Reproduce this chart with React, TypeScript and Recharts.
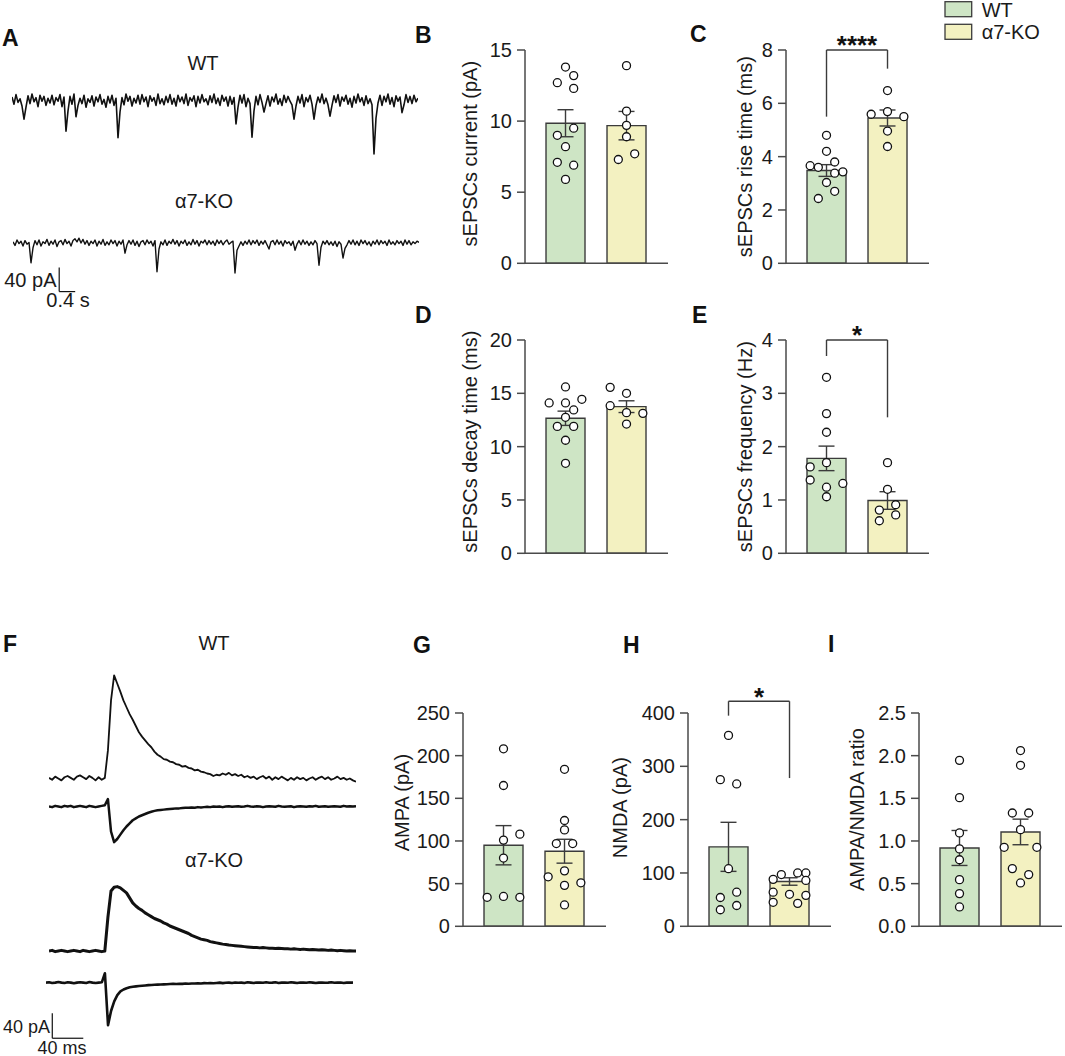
import React from 'react';
import {
  ComposedChart,
  Bar,
  Cell,
  ErrorBar,
  Scatter,
  XAxis,
  YAxis,
  ReferenceLine,
  ReferenceDot,
  LineChart,
  Line,
} from 'recharts';

const FONT = '"Liberation Sans", Arial, Helvetica, sans-serif';
const WT_FILL = '#cee5c5';
const KO_FILL = '#f3f1c1';
const EDGE = '#3b3b3b';
const AXIS = '#4a4a4a';
const INK = '#111111';
const TEXT = '#1a1a1a';

// ---------- B: sEPSC amplitude (pA)
const ampMean = [9.85, 9.68];
const ampSem = [0.95, 1.0];
const ampWt = [13.8, 13.2, 12.7, 12.3, 9.5, 9.0, 8.2, 7.1, 6.9, 5.9];
const ampWtLane = [0, 1, -1, 1, 1, -1, 0, -1, 1, 0];
const ampKo = [13.9, 10.7, 9.7, 8.9, 7.7, 7.3];
const ampKoLane = [0, 0, 0, 0, 1, -1];

// ---------- C: rise time (ms)
const riseMean = [3.48, 5.45];
const riseSem = [0.22, 0.3];
const riseWt = [4.8, 4.2, 3.8, 3.66, 3.6, 3.43, 3.38, 3.03, 2.7, 2.43];
const riseWtLane = [0, 0, 1, -2, -1, 2, 1, 0, 1, -1];
const riseKo = [6.48, 5.69, 5.59, 5.5, 4.96, 4.38];
const riseKoLane = [0, 0, -2, 2, 0, 0];

// ---------- D: decay time (ms)
const decayMean = [12.66, 13.75];
const decaySem = [0.67, 0.55];
const decayWt = [15.6, 14.44, 14.1, 14.1, 13.44, 12.75, 11.9, 11.9, 10.6, 8.44];
const decayWtLane = [0, 2, -2, 0, 1, 0, -1, 1, 0, 0];
const decayKo = [15.56, 15.0, 13.84, 13.19, 13.12, 12.12];
const decayKoLane = [-2, 0, -2, 0, 2, 0];

// ---------- E: frequency (Hz)
const freqMean = [1.78, 0.99];
const freqSem = [0.23, 0.165];
const freqWt = [3.3, 2.62, 2.27, 1.7, 1.62, 1.375, 1.31, 1.24, 1.06];
const freqWtLane = [0, 0, 0, 0, -2, -2, 2, 0, 0];
const freqKo = [1.7, 1.2, 0.91, 0.81, 0.72, 0.61];
const freqKoLane = [0, 0, 1, -1, 1, -1];

// ---------- G: AMPA (pA)
const ampaMean = [95, 88];
const ampaSem = [23, 14];
const ampaWt = [208, 165, 108, 101, 80, 35, 34, 34];
const ampaWtLane = [0, 0, 2, 0, 0, 0, -2, 2];
const ampaKo = [184, 124, 113, 97, 97, 65, 58, 51, 48, 25];
const ampaKoLane = [0, 0, 0, -1, 1, 0, -2, 2, 0, 0];

// ---------- H: NMDA (pA)
const nmdaMean = [149, 84];
const nmdaSem = [46, 7];
const nmdaWt = [358, 275, 267, 108, 64, 54, 39, 31];
const nmdaWtLane = [0, -1, 1, 0, 1, -1, 1, -1];
const nmdaKo = [100, 100, 97, 88, 86, 64, 60, 58, 45, 43];
const nmdaKoLane = [1, 2, -1, -2, 2, -2, 0, 2, -2, 1];

// ---------- I: AMPA/NMDA ratio
const ratioMean = [0.918, 1.106];
const ratioSem = [0.205, 0.15];
const ratioWt = [1.945, 1.508, 1.094, 0.907, 0.78, 0.547, 0.383, 0.227];
const ratioWtLane = [0, 0, 0, 0, 0, 0, 0, 0];
const ratioKo = [2.06, 1.887, 1.328, 1.328, 1.133, 0.926, 0.926, 0.676, 0.606, 0.508];
const ratioKoLane = [0, 0, -1, 1, 0, -2, 2, -1, 1, 0];

// significance brackets: [top, left leg end, right leg end]
const riseBracket = [8, 5.5, 7.3];
const freqBracket = [4, 3.7, 2.55];
const nmdaBracket = [422, 395, 278];

// ---------- A: spontaneous traces, pA, one sample every 50 ms
const SPONT_DT = 0.05;
const spontWt = [
  5, -7, 9, -4, 2, -10, -32, -12, 7, -6, 10, -3, 4, -11, 8, -2, 6, -9, 3, -5,
  8, -8, 4, -2, 9, -11, 5, -52, -18, 6, -7, 10, -28, -9, 3, -6, 8, -12, 2, -4,
  7, -10, 5, -3, 9, -7, 1, -12, 6, -5, 8, -9, 3, -63, -20, 4, -8, 10, -2, 6,
  -10, 3, -5, 8, -7, 9, -3, 5, -11, 7, -2, 4, -9, 10, -6, 2, -8, 6, -4, 9,
  -7, 3, -10, 8, -3, 5, -6, 10, -9, 4, -2, 7, -11, 6, -5, 9, -3, 2, -8, 7,
  -4, 10, -6, 3, -9, 8, -2, 5, -10, 6, -7, 4, -40, -12, 8, -5, 9, -11, 3, -6,
  -62, -18, 6, -8, 9, -4, -20, -6, 7, -10, 5, -3, 10, -7, 2, -9, 8, -4, 6, -2,
  -8, -32, -10, 6, -5, 9, -11, 4, -3, 8, -7, -32, -9, 5, -4, 10, -6, 3, -8, -27,
  -9, 7, -4, 9, -10, 5, -2, 8, -7, 3, -12, 6, -5, 10, -3, 4, -9, 7, -6, 2,
  -8, -90, -30, -5, 8, -9, 6, -3, 10, -7, 4, -11, 7, -2, 5, -21, -8, 9, -4, 6,
  -6, 8, -3, 3,
];
const spontKo = [
  2, -4, 5, -1, 3, -5, 4, -2, 1, -33, -8, 4, -3, 5, -5, 2, -1, 6, -4, 3,
  -2, 5, -6, 2, 4, -3, 6, -1, 3, -5, 4, 7, 2, 8, 0, 6, -2, 4, -4, 3,
  -1, 5, -5, 3, -2, 6, -4, 2, -3, 5, -1, 4, -5, 3, -2, 5, -17, -3, 4, -2,
  5, -4, 3, -6, 2, 4, -3, 5, -1, 3, -5, 4, -48, -10, 2, -3, 5, -4, 3, -1,
  6, -2, 4, -5, 3, -1, 5, -4, 2, -3, 6, -2, 4, -5, 3, 0, 5, -3, 4, -2,
  3, -4, 5, -1, 4, -3, 2, 5, -2, 1, 3, -50, -12, -5, 2, -4, 3, -2, 5, -3,
  4, -1, 5, -4, 3, -2, 4, -3, -10, 2, 4, -3, 5, -2, 3, -5, 4, -1, 2, -4,
  3, -12, -2, 4, -3, 5, -2, 3, -4, 2, -3, 4, -1, -37, -7, 3, -2, 4, -3, 2,
  -4, 3, -6, 2, -2, -25, -9, -3, 4, -2, 5, -3, 3, -4, 5, -1, 4, -3, 2, -5,
  3, -2, 5, -3, 4, -1, 3, -4, 5, -2, 2, -3, 4, -1, 3, -4, 5, -2, 4, -3,
  2, -1, 3, 1,
];
// scale bar: 40 pA / 0.4 s
const spontScale = { t: 1.155, v: -81, dv: 40, dt: 0.4 };

// ---------- F: evoked currents, pA, one sample every 4 ms
const EVOKED_DT = 4;
const evokedWtUp = [
  1, -2, 3, 0, -3, 2, 4, 1, -2, 3, 5, 2, -1, 4, 1, -3, 2, -2, 1,
  45, 125, 165, 152, 139, 125, 114, 103, 94, 84, 74, 67, 61, 55, 50, 43, 38, 35, 31, 30,
  27, 26, 23, 22, 19, 20, 17, 16, 13, 14, 11, 10, 8, 7, 4,
  6, 5, 8, 6, 9, 5, 7, 4, 6, 2, 4, 1, 3, -1, 2, 4, 0, 3, -2, 2,
  -1, 3, 0, -3, 1, -2, 2, -1, 1, -3, 0, 2, -2, 1, 3, -1, 2, -2, 0, 3,
  -1, 1, -2, 0, -3, -5,
];
const evokedWtDown = [
  0, -1, 1, 0, -1, 1, 0, 1, -1, 0, 1, 0, -1, 1, 0, -1, 0, 1, 2,
  12, -40, -57, -52, -45, -38, -32, -27, -22, -19, -16, -14, -12, -10, -8.5, -7, -6, -5.5, -5, -4.5,
  -4, -3.5, -3, -3, -2.5, -2, -2, -1.5, -2, -1, -1.5, -1, -0.5, -1,
  0, -0.5, 0, -1, 0, 0.5, -0.5, 0, 0.5, -0.5, 0, 1, 0, -0.5, 0.5, 0, -1, 0, 0.5, 0,
  -0.5, 1, 0, -0.5, 0, 0.5, -1, 0, 0.5, 0, -0.5, 0.5, 0, 1, -0.5, 0, 0.5, -0.5, 0, 0.5,
  0, -0.5, 1, 0, 0.5, 0, 0.5,
];
const evokedKoUp = [
  0, 1, -1, 0, 1, 0, -1, 0, 1, 0, -1, 1, 0, -1, 0, 1, 0, -1, 0,
  54, 96, 102, 103, 101, 97, 93, 85, 77, 72, 68, 65, 61, 58, 55, 52, 50, 48, 45, 43,
  40, 38, 36, 34, 32, 30, 28, 25, 23, 21, 19, 18, 17, 15, 14, 13, 12, 11, 10.5, 9.5,
  9, 8.5, 8, 7.5, 7, 6.5, 6,
  5.5, 5.5, 5, 5.5, 5, 4.5, 4.5, 4, 4.5, 4, 3.5, 3.5, 3, 3.5, 3, 2.5, 3, 2.5, 2, 2.5,
  2, 1.5, 2, 1.5, 1, 1.5, 1, 0.5, 1, 0.5, 0, 0.5, 0, 0,
];
const evokedKoDown = [
  0, 0.5, -0.5, 0, 1, 0, -0.5, 0.5, 0, -1, 0, 0.5, 0, -0.5, 1, 0, -0.5, 0, 0.5,
  15, -68, -45, -30, -20, -14, -11, -9, -7.5, -6.5, -6, -5.5, -5, -4.5, -4, -3.8, -3.5, -3.2, -3, -2.8,
  -2.5, -2.3,
  -2, -2.2, -1.8, -2, -1.5, -1.8, -1.3, -1.5, -1, -1.3, -0.8, -1, -0.5, -1, -0.5, 0, -0.8, -0.3, 0, -0.5,
  0.3, -0.3, 0, -0.5, 0.5, 0, -0.5, 0.3, 0, -0.3, 0.5, -0.3, 0, 0.5, -0.5, 0, 0.3, -0.3, 0.5, 0,
  -0.5, 0.3, 0, -0.3, 0.5, 0, -0.5, 0, 0.3, -0.3, 0, 0.5, -0.3, 0, 0.3, -0.5, 0, 0.3, 0,
];
// scale bar: 40 pA / 40 ms
const evokedScale = { t: 8.1, v: -89, dv: 40, dt: 40 };

// ---------- layout
const Y_W = 85;
const PLOT_W = 143;
const PLOT_H = 213.3;
const M_TOP = 40;
const M_RIGHT = 4;
const X_H = 2;
const M_BOT = 16;
const X_DOMAIN: [number, number] = [0.336, 2.68];
const LANE = 0.134;

const AxisTitle = (props: any) => {
  const { viewBox, caption, dist, shiftY } = props;
  const cx = viewBox.x + viewBox.width - dist;
  const cy = viewBox.y + viewBox.height / 2 + shiftY;
  return (
    <text
      x={cx}
      y={cy}
      transform={`rotate(-90 ${cx} ${cy})`}
      textAnchor="middle"
      dominantBaseline="central"
      fontSize={20}
      fill={TEXT}
    >
      {caption}
    </text>
  );
};

const Mark = (props: any) => {
  const { viewBox, mark } = props;
  const cx = viewBox.x + viewBox.width / 2;
  const cy = viewBox.y + viewBox.height / 2;
  return (
    <text x={cx} y={cy + 4.5} textAnchor="middle" fontSize={26} fontWeight="bold" fill={INK}>
      {mark}
    </text>
  );
};

const Dot = (props: any) => (
  <circle cx={props.cx} cy={props.cy} r={4} fill="#ffffff" stroke={INK} strokeWidth={1.3} />
);

type PanelProps = {
  left: number;
  top: number;
  max: number;
  ticks: number[];
  title: string;
  dist: number;
  shiftY: number;
  mean: number[];
  sem: number[];
  wt: number[];
  wtLane: number[];
  ko: number[];
  koLane: number[];
  bracket?: number[];
  mark?: string;
  decimals?: number;
};

function BarPanel(p: PanelProps) {
  const bars = p.mean.map((m, i) => ({ x: i + 1, mean: m, sem: p.sem[i] }));
  const dots = [
    ...p.wt.map((v, i) => ({ x: 1 + p.wtLane[i] * LANE, y: v })),
    ...p.ko.map((v, i) => ({ x: 2 + p.koLane[i] * LANE, y: v })),
  ];
  const line = { stroke: AXIS, strokeWidth: 1.5 };
  return (
    <div style={{ position: 'absolute', left: p.left - Y_W, top: p.top - M_TOP }}>
      <ComposedChart
        width={Y_W + PLOT_W + M_RIGHT}
        height={M_TOP + PLOT_H + X_H + M_BOT}
        data={bars}
        margin={{ top: M_TOP, right: M_RIGHT, bottom: M_BOT, left: 0 }}
      >
        <XAxis
          type="number"
          dataKey="x"
          domain={X_DOMAIN}
          ticks={[1, 2]}
          allowDataOverflow
          tick={false}
          tickLine={false}
          axisLine={line}
          height={X_H}
        />
        <XAxis xAxisId="dots" type="number" dataKey="x" domain={X_DOMAIN} allowDataOverflow hide />
        <YAxis
          type="number"
          domain={[0, p.max]}
          ticks={p.ticks}
          interval={0}
          width={Y_W}
          tickSize={8}
          tickMargin={5}
          axisLine={line}
          tickLine={line}
          tick={{ fontSize: 20, fill: TEXT }}
          tickFormatter={(v: number) => (p.decimals ? v.toFixed(p.decimals) : String(v))}
          label={<AxisTitle caption={p.title} dist={p.dist} shiftY={p.shiftY} />}
        />
        <Bar dataKey="mean" barSize={39} stroke={EDGE} strokeWidth={1.4} isAnimationActive={false}>
          <Cell fill={WT_FILL} />
          <Cell fill={KO_FILL} />
          <ErrorBar dataKey="sem" width={8} stroke={EDGE} strokeWidth={1.4} direction="y" />
        </Bar>
        <Scatter xAxisId="dots" data={dots} dataKey="y" shape={Dot} isAnimationActive={false} />
        {p.bracket && (
          <ReferenceLine
            segment={[{ x: 1, y: p.bracket[1] }, { x: 1, y: p.bracket[0] }]}
            stroke={EDGE}
            strokeWidth={1.4}
            ifOverflow="visible"
          />
        )}
        {p.bracket && (
          <ReferenceLine
            segment={[{ x: 1, y: p.bracket[0] }, { x: 2, y: p.bracket[0] }]}
            stroke={EDGE}
            strokeWidth={1.4}
            ifOverflow="visible"
          />
        )}
        {p.bracket && (
          <ReferenceLine
            segment={[{ x: 2, y: p.bracket[0] }, { x: 2, y: p.bracket[2] }]}
            stroke={EDGE}
            strokeWidth={1.4}
            ifOverflow="visible"
          />
        )}
        {p.bracket && (
          <ReferenceDot
            x={1.5}
            y={p.bracket[0]}
            r={0.01}
            fill="none"
            stroke="none"
            ifOverflow="visible"
            label={<Mark mark={p.mark} />}
          />
        )}
      </ComposedChart>
    </div>
  );
}

type TraceProps = {
  values: number[];
  dt: number;
  left: number;
  top: number;
  width: number;
  height: number;
  domain: [number, number];
  strokeWidth: number;
  children?: React.ReactNode;
};

function Trace(p: TraceProps) {
  const rows = p.values.map((v, i) => ({ t: i * p.dt, v }));
  return (
    <div style={{ position: 'absolute', left: p.left, top: p.top }}>
      <LineChart width={p.width} height={p.height} data={rows} margin={{ top: 0, right: 0, bottom: 0, left: 0 }}>
        <XAxis type="number" dataKey="t" domain={[0, (p.values.length - 1) * p.dt]} hide />
        <YAxis type="number" domain={p.domain} hide />
        <Line
          type="linear"
          dataKey="v"
          stroke={INK}
          strokeWidth={p.strokeWidth}
          strokeLinejoin="round"
          dot={false}
          isAnimationActive={false}
        />
        {p.children}
      </LineChart>
    </div>
  );
}

const scaleLines = (s: { t: number; v: number; dv: number; dt: number }, w: number) => [
  <ReferenceLine
    key="v"
    segment={[{ x: s.t, y: s.v + s.dv }, { x: s.t, y: s.v }]}
    stroke={INK}
    strokeWidth={w}
    ifOverflow="visible"
  />,
  <ReferenceLine
    key="h"
    segment={[{ x: s.t, y: s.v }, { x: s.t + s.dt, y: s.v }]}
    stroke={INK}
    strokeWidth={w}
    ifOverflow="visible"
  />,
];

const letters: [string, number, number][] = [
  ['A', 2, 45.5],
  ['B', 415, 43.3],
  ['C', 690, 41.7],
  ['D', 415, 323.3],
  ['E', 692, 323],
  ['F', 3, 651.7],
  ['G', 413, 653],
  ['H', 623, 653],
  ['I', 828, 651.7],
];

export default function App() {
  return (
    <div
      style={{
        position: 'absolute',
        left: 0,
        top: 0,
        width: 1065,
        height: 1056,
        overflow: 'hidden',
        background: '#ffffff',
        fontFamily: FONT,
      }}
    >
      {/* A */}
      <Trace values={spontWt} dt={SPONT_DT} left={12} top={85} width={406} height={75} domain={[-100, 25]} strokeWidth={1.6} />
      <Trace values={spontKo} dt={SPONT_DT} left={13} top={231} width={406} height={66} domain={[-90, 20]} strokeWidth={1.4}>
        {scaleLines(spontScale, 1.2)}
      </Trace>

      {/* F */}
      <Trace values={evokedWtUp} dt={EVOKED_DT} left={49.3} top={665.8} width={307} height={125} domain={[-20, 180]} strokeWidth={1.8} />
      <Trace values={evokedWtDown} dt={EVOKED_DT} left={49.3} top={793.5} width={307} height={56.25} domain={[-70, 20]} strokeWidth={2.5} />
      <Trace values={evokedKoUp} dt={EVOKED_DT} left={49.3} top={875.7} width={307} height={87.5} domain={[-20, 120]} strokeWidth={3} />
      <Trace values={evokedKoDown} dt={EVOKED_DT} left={46} top={967.1} width={307} height={75} domain={[-95, 25]} strokeWidth={2.6}>
        {scaleLines(evokedScale, 1.2)}
      </Trace>

      <BarPanel left={525} top={50} max={15} ticks={[0, 5, 10, 15]} title="sEPSCs current (pA)" dist={55} shiftY={-3}
        mean={ampMean} sem={ampSem} wt={ampWt} wtLane={ampWtLane} ko={ampKo} koLane={ampKoLane} />
      <BarPanel left={786} top={50} max={8} ticks={[0, 2, 4, 6, 8]} title="sEPSCs rise time (ms)" dist={41} shiftY={0}
        mean={riseMean} sem={riseSem} wt={riseWt} wtLane={riseWtLane} ko={riseKo} koLane={riseKoLane}
        bracket={riseBracket} mark="****" />
      <BarPanel left={525} top={340} max={20} ticks={[0, 5, 10, 15, 20]} title="sEPSCs decay time (ms)" dist={55} shiftY={-5}
        mean={decayMean} sem={decaySem} wt={decayWt} wtLane={decayWtLane} ko={decayKo} koLane={decayKoLane} />
      <BarPanel left={786} top={340} max={4} ticks={[0, 1, 2, 3, 4]} title="sEPSCs frequency (Hz)" dist={41} shiftY={0}
        mean={freqMean} sem={freqSem} wt={freqWt} wtLane={freqWtLane} ko={freqKo} koLane={freqKoLane}
        bracket={freqBracket} mark="*" />
      <BarPanel left={462.7} top={713.3} max={250} ticks={[0, 50, 100, 150, 200, 250]} title="AMPA (pA)" dist={61} shiftY={-17}
        mean={ampaMean} sem={ampaSem} wt={ampaWt} wtLane={ampaWtLane} ko={ampaKo} koLane={ampaKoLane} />
      <BarPanel left={687.7} top={713.3} max={400} ticks={[0, 100, 200, 300, 400]} title="NMDA (pA)" dist={67.7} shiftY={-12}
        mean={nmdaMean} sem={nmdaSem} wt={nmdaWt} wtLane={nmdaWtLane} ko={nmdaKo} koLane={nmdaKoLane}
        bracket={nmdaBracket} mark="*" />
      <BarPanel left={919.3} top={713.3} max={2.5} ticks={[0, 0.5, 1, 1.5, 2, 2.5]} title="AMPA/NMDA ratio" dist={61.6} shiftY={-10}
        mean={ratioMean} sem={ratioSem} wt={ratioWt} wtLane={ratioWtLane} ko={ratioKo} koLane={ratioKoLane} decimals={1} />

      <svg width={1065} height={1056} style={{ position: 'absolute', left: 0, top: 0, pointerEvents: 'none' }}>
        {letters.map(([l, x, y]) => (
          <text key={l} x={x} y={y} fontSize={23} fontWeight="bold" fill={INK}>
            {l}
          </text>
        ))}
        <g fontSize={20} fill={TEXT} textAnchor="middle">
          <text x={203} y={70}>WT</text>
          <text x={204} y={208.3}>α7-KO</text>
          <text x={214} y={650}>WT</text>
          <text x={214} y={866.7}>α7-KO</text>
        </g>
        <g fill={TEXT}>
          <text x={56.5} y={280} fontSize={20} textAnchor="end" dominantBaseline="central">40 pA</text>
          <text x={68} y={300} fontSize={20} textAnchor="middle" dominantBaseline="central">0.4 s</text>
          <text x={50} y={1027} fontSize={18} textAnchor="end" dominantBaseline="central">40 pA</text>
          <text x={62} y={1047.5} fontSize={18} textAnchor="middle" dominantBaseline="central">40 ms</text>
        </g>
        <rect x={945} y={1.7} width={26.7} height={15} fill={WT_FILL} stroke={EDGE} strokeWidth={1.3} />
        <rect x={945} y={24.3} width={26.7} height={15} fill={KO_FILL} stroke={EDGE} strokeWidth={1.3} />
        <text x={981.7} y={16.7} fontSize={20} fill={TEXT}>WT</text>
        <text x={981.7} y={39.3} fontSize={20} fill={TEXT}>α7-KO</text>
      </svg>
    </div>
  );
}
